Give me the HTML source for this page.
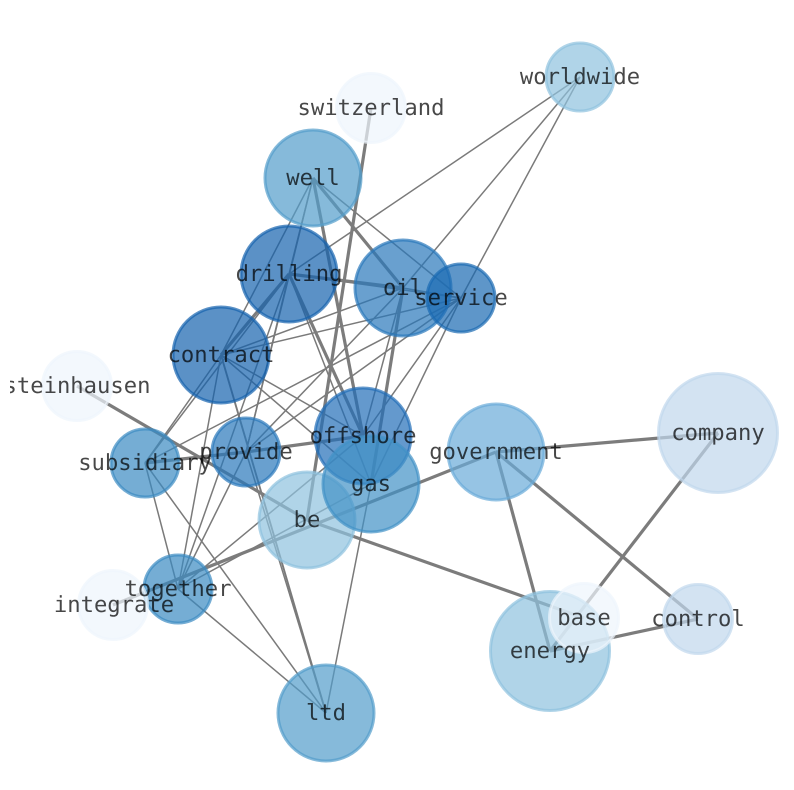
<!DOCTYPE html>
<html><head><meta charset="utf-8"><style>
html,body{margin:0;padding:0;background:#fff}
svg{display:block}
.t line{stroke:#7a7a7a;stroke-width:1.5}
.k line{stroke:#7c7c7c;stroke-width:3.2}
circle{stroke-width:3;fill-opacity:.7;stroke-opacity:.7}
text{font-family:"DejaVu Sans Mono","Liberation Mono",monospace;font-size:22.2px;fill:#000;fill-opacity:.72;text-anchor:middle;text-rendering:geometricPrecision}
</style></head><body>
<svg width="794" height="790" viewBox="0 0 794 790" xmlns="http://www.w3.org/2000/svg">
<defs><clipPath id="c"><rect x="10" y="0" width="784" height="790"/></clipPath></defs>
<g class="t">
<line x1="580" y1="77" x2="289" y2="274"/><line x1="580" y1="77" x2="403" y2="288"/><line x1="580" y1="77" x2="461" y2="298"/>
<line x1="313" y1="178" x2="289" y2="274"/><line x1="313" y1="178" x2="221" y2="355"/><line x1="313" y1="178" x2="246" y2="452"/><line x1="313" y1="178" x2="461" y2="298"/>
<line x1="289" y1="274" x2="461" y2="298"/><line x1="289" y1="274" x2="145" y2="463"/><line x1="289" y1="274" x2="246" y2="452"/><line x1="289" y1="274" x2="178" y2="589"/><line x1="289" y1="274" x2="371" y2="484"/>
<line x1="221" y1="355" x2="403" y2="288"/><line x1="221" y1="355" x2="461" y2="298"/><line x1="221" y1="355" x2="363" y2="436"/><line x1="221" y1="355" x2="371" y2="484"/><line x1="221" y1="355" x2="145" y2="463"/><line x1="221" y1="355" x2="178" y2="589"/>
<line x1="221" y1="355" x2="326" y2="713" style="stroke-width:1.9"/>
<line x1="403" y1="288" x2="246" y2="452"/><line x1="403" y1="288" x2="363" y2="436"/><line x1="403" y1="288" x2="461" y2="298"/>
<line x1="461" y1="298" x2="246" y2="452"/><line x1="461" y1="298" x2="145" y2="463"/><line x1="461" y1="298" x2="363" y2="436"/><line x1="461" y1="298" x2="371" y2="484"/>
<line x1="145" y1="463" x2="178" y2="589"/><line x1="145" y1="463" x2="326" y2="713"/>
<line x1="246" y1="452" x2="178" y2="589"/><line x1="246" y1="452" x2="326" y2="713"/>
<line x1="178" y1="589" x2="363" y2="436"/><line x1="178" y1="589" x2="326" y2="713"/><line x1="178" y1="589" x2="371" y2="484"/>
<line x1="371" y1="484" x2="326" y2="713"/>
</g>
<g class="k">
<line x1="371" y1="108" x2="307" y2="520"/>
<line x1="313" y1="178" x2="403" y2="288"/><line x1="313" y1="178" x2="363" y2="436"/>
<line x1="289" y1="274" x2="221" y2="355"/><line x1="289" y1="274" x2="403" y2="288"/><line x1="289" y1="274" x2="363" y2="436"/>
<line x1="403" y1="288" x2="371" y2="484"/>
<line x1="145" y1="463" x2="246" y2="452"/><line x1="246" y1="452" x2="363" y2="436"/>
<line x1="77" y1="386" x2="307" y2="520"/><line x1="307" y1="520" x2="584" y2="618"/>
<line x1="113" y1="605" x2="496" y2="452"/>
<line x1="496" y1="452" x2="718" y2="433"/><line x1="496" y1="452" x2="550" y2="651"/><line x1="496" y1="452" x2="698" y2="619"/>
<line x1="718" y1="433" x2="550" y2="651"/><line x1="550" y1="651" x2="698" y2="619"/>
</g>
<g>
<circle cx="580" cy="77" r="34" fill="#8fc2de" stroke="#8fc2de"/>
<circle cx="371" cy="108" r="34.5" fill="#eef5fc" stroke="#eef5fc"/>
<circle cx="313" cy="178" r="48" fill="#539dcb" stroke="#539dcb"/>
<circle cx="289" cy="274" r="48" fill="#1663ae" stroke="#1663ae"/>
<circle cx="403" cy="288" r="48" fill="#2a78ba" stroke="#2a78ba"/>
<circle cx="461" cy="298" r="34" fill="#1a6ab2" stroke="#1a6ab2"/>
<circle cx="221" cy="355" r="48" fill="#1663ae" stroke="#1663ae"/>
<circle cx="77" cy="386" r="34.5" fill="#eef5fc" stroke="#eef5fc"/>
<circle cx="363" cy="436" r="48" fill="#226db8" stroke="#226db8"/>
<circle cx="307" cy="520" r="48" fill="#8fc2de" stroke="#8fc2de"/>
<circle cx="371" cy="484" r="48" fill="#4292c6" stroke="#4292c6"/>
<circle cx="496" cy="452" r="48" fill="#6aabd8" stroke="#6aabd8"/>
<circle cx="718" cy="433" r="59.5" fill="#c0d7ed" stroke="#c0d7ed"/>
<circle cx="246" cy="452" r="34" fill="#2a78ba" stroke="#2a78ba"/>
<circle cx="145" cy="463" r="34" fill="#3a8ac2" stroke="#3a8ac2"/>
<circle cx="178" cy="589" r="34" fill="#3a8ac2" stroke="#3a8ac2"/>
<circle cx="113" cy="605" r="34.5" fill="#eef5fc" stroke="#eef5fc"/>
<circle cx="698" cy="619" r="34.5" fill="#c0d7ed" stroke="#c0d7ed"/>
<circle cx="550" cy="651" r="59.5" fill="#8fc2de" stroke="#8fc2de"/>
<circle cx="584" cy="618" r="34.5" fill="#eef5fc" stroke="#eef5fc"/>
<circle cx="326" cy="713" r="48" fill="#539dcb" stroke="#539dcb"/>
</g>
<g>
<text x="580" y="84">worldwide</text>
<text x="371" y="115">switzerland</text>
<text x="313" y="185">well</text>
<text x="289" y="281">drilling</text>
<text x="403" y="295">oil</text>
<text x="461" y="305">service</text>
<text x="221" y="362">contract</text>
<g clip-path="url(#c)"><text x="77" y="393">steinhausen</text></g>
<text x="363" y="443">offshore</text>
<text x="371" y="491">gas</text>
<text x="496" y="459">government</text>
<text x="718" y="440">company</text>
<text x="246" y="459">provide</text>
<text x="145" y="470">subsidiary</text>
<text x="307" y="527">be</text>
<text x="178" y="596">together</text>
<text x="114" y="612">integrate</text>
<text x="584" y="625">base</text>
<text x="698" y="626">control</text>
<text x="550" y="658">energy</text>
<text x="326" y="720">ltd</text>
</g>
</svg>
</body></html>
